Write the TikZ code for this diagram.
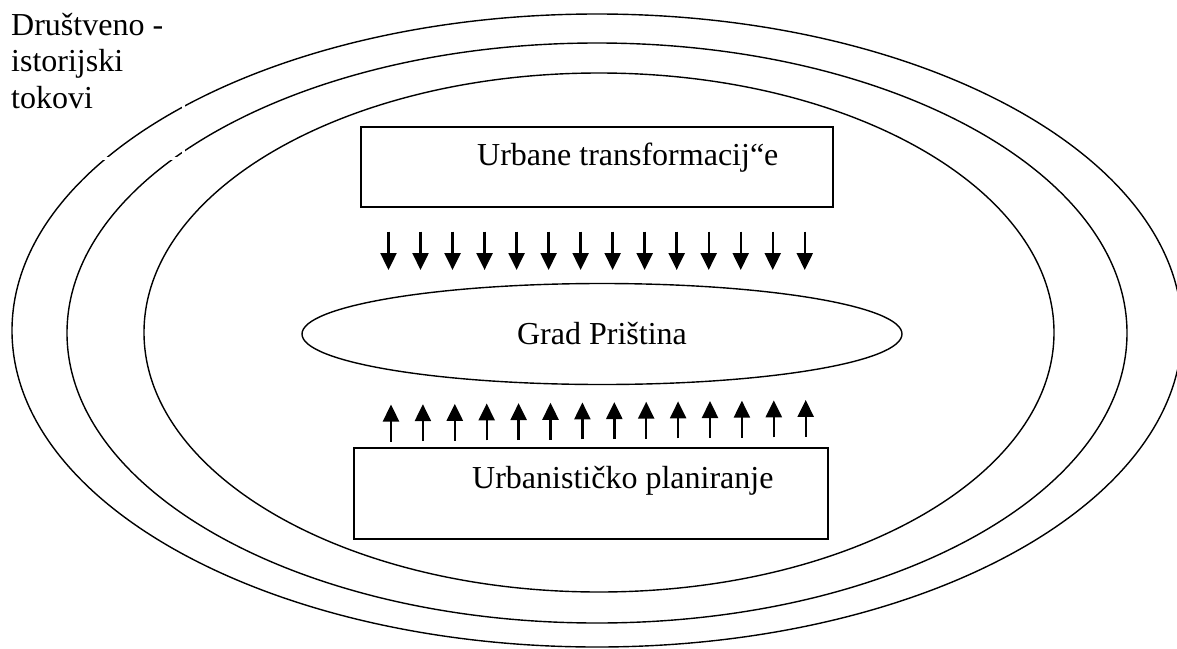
\documentclass[tikz,border=0pt]{standalone}
\usepackage{fontspec}
\setmainfont{Liberation Serif}
\usetikzlibrary{arrows.meta,shapes.geometric}
\tikzset{
  ring/.style={draw=black, line width=1.4pt},
  boxshape/.style={draw=black, line width=1.4pt, rectangle, inner sep=0pt},
  txt/.style={inner sep=0pt, font=\fontsize{32}{36.8}\selectfont},
  flow/.style={line width=2.4pt, -{Triangle[length=17pt,width=16pt]}},
}
\begin{document}
\begin{tikzpicture}[x=1pt,y=-1pt]
\useasboundingbox (0,0) rectangle (1177,648);
% nested ellipses
\draw[ring] (597,330.5) ellipse [x radius=585, y radius=316.5];
\draw[ring] (597,333) ellipse [x radius=530, y radius=290];
\draw[ring] (599,332.5) ellipse [x radius=455, y radius=259.5];
% gaps left by the label box
\draw[white, line width=3pt] (183,0) -- (183,158) -- (0,158);
\node[txt, anchor=base west, align=left] (drustvo) at (11,108.6) {Društveno -\\istorijski\\tokovi};
% top box
\node[boxshape, minimum width=472pt, minimum height=80pt] (ut) at (597,167) {};
\node[txt, anchor=base west] (uttext) at (477,165) {Urbane transformacij“e};
% city ellipse
\node[draw=black, line width=1.4pt, ellipse, minimum width=600pt, minimum height=101pt, inner sep=0pt] (grad) at (602,334) {};
\node[txt] (gradtext) at (602,334) {Grad Priština};
% bottom box
\node[boxshape, minimum width=474pt, minimum height=91pt] (up) at (591,493.5) {};
\node[txt, anchor=base west] (uptext) at (472,488) {Urbanističko planiranje};
% arrows down
\foreach \i in {0,...,13} {
  \coordinate (ds\i) at (388.5+32.02*\i,231.5);
  \coordinate (de\i) at (388.5+32.02*\i,270);
  \draw[flow] (ds\i) -- (de\i);
}
% arrows up
\foreach \i in {0,...,13} {
  \coordinate (us\i) at (391+31.9*\i,{441.5-0.35*\i});
  \coordinate (ue\i) at (391+31.9*\i,{404.5-0.35*\i});
  \draw[flow] (us\i) -- (ue\i);
}
\end{tikzpicture}
\end{document}
